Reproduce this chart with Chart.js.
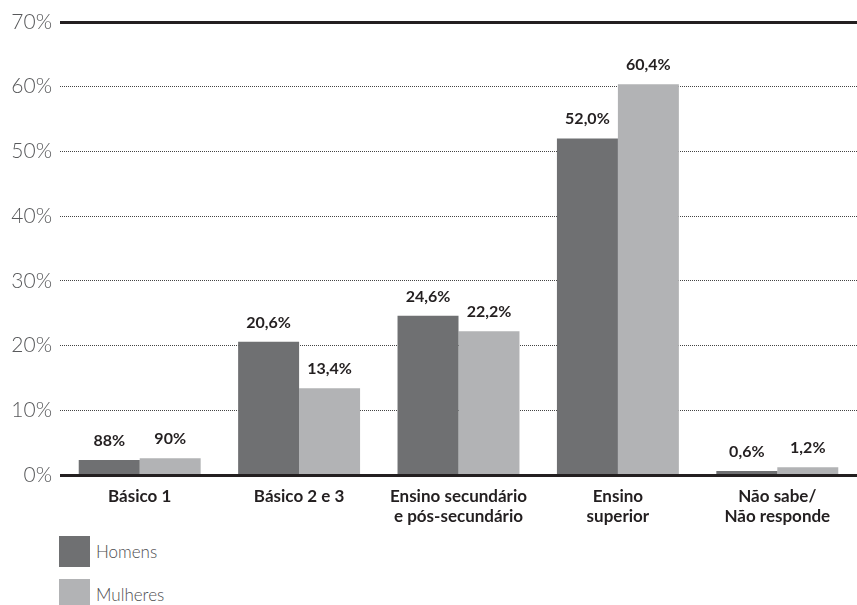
<!DOCTYPE html>
<html>
<head>
<meta charset="utf-8">
<script src="https://cdn.jsdelivr.net/npm/chart.js@4/dist/chart.umd.min.js"></script>
<style>
  body { margin: 0; background: #fff; font-family: Lato, sans-serif; }
  #wrap { position: relative; width: 857px; height: 605px; }
  #box { position: absolute; left: 0; top: 0; width: 857px; height: 530px; }
  #legenda { position: absolute; left: 59px; top: 536px; }
  .item { display: flex; align-items: center; height: 31px; margin-bottom: 12px; font-size: 17px; font-weight: 300; color: #4d4d4f; }
  .item span { display: inline-block; width: 31px; height: 31px; margin-right: 6px; }
</style>
</head>
<body>
<div id="wrap">
  <div id="box"><canvas id="grafico"></canvas></div>
  <div id="legenda"></div>
</div>
<script>
// dados
const categorias = [['Básico 1'], ['Básico 2 e 3'], ['Ensino secundário', 'e pós-secundário'], ['Ensino', 'superior'], ['Não sabe/', 'Não responde']];
const homens = [2.3, 20.6, 24.6, 52.0, 0.6];
const mulheres = [2.6, 13.4, 22.2, 60.4, 1.2];
const rotulosHomens = ['88%', '20,6%', '24,6%', '52,0%', '0,6%'];
const rotulosMulheres = ['90%', '13,4%', '22,2%', '60,4%', '1,2%'];
const ticksY = [0, 10, 20, 30, 40, 50, 60, 70];

const COR_HOMENS = '#6f7072';
const COR_MULHERES = '#b2b3b5';

// rótulos em cima das barras + linhas sólidas em 0% e 70%
const extras = {
  id: 'extras',
  afterDatasetsDraw(chart) {
    const ctx = chart.ctx;
    const y = chart.scales.y;
    const area = chart.chartArea;
    ctx.save();
    ctx.strokeStyle = '#231f20';
    ctx.lineWidth = 3;
    [0, 70].forEach(v => {
      const py = Math.round(y.getPixelForValue(v)) + 0.5;
      ctx.beginPath();
      ctx.moveTo(area.left, py);
      ctx.lineTo(chart.width, py);
      ctx.stroke();
    });
    ctx.font = 'bold 16px Lato';
    ctx.fillStyle = '#231f20';
    ctx.textAlign = 'center';
    ctx.textBaseline = 'alphabetic';
    [rotulosHomens, rotulosMulheres].forEach((rot, d) => {
      chart.getDatasetMeta(d).data.forEach((bar, i) => {
        ctx.fillText(rot[i], bar.x, bar.y - 14);
      });
    });
    ctx.restore();
  }
};

const grafico = new Chart(document.getElementById('grafico'), {
  type: 'bar',
  data: {
    labels: categorias,
    datasets: [
      { label: 'Homens', data: homens, backgroundColor: COR_HOMENS },
      { label: 'Mulheres', data: mulheres, backgroundColor: COR_MULHERES }
    ]
  },
  options: {
    responsive: true,
    maintainAspectRatio: false,
    animation: false,
    layout: { padding: { top: 22, right: 0 } },
    datasets: { bar: { categoryPercentage: 0.765, barPercentage: 1 } },
    plugins: { legend: { display: false }, tooltip: { enabled: false } },
    scales: {
      x: {
        grid: { display: false },
        border: { display: false },
        ticks: { color: '#231f20', font: { family: 'Lato', weight: 'bold', size: 17, lineHeight: 1.15 }, padding: 4, maxRotation: 0, autoSkip: false },
        afterFit(s) { s.height = 55; }
      },
      y: {
        min: 0, max: 70,
        afterBuildTicks(s) { s.ticks = ticksY.map(v => ({ value: v })); },
        grid: { color: '#444', lineWidth: 1, drawTicks: false },
        border: { display: false, dash: [1, 1] },
        ticks: { color: '#58595b', font: { family: 'Lato', weight: 300, size: 21 }, padding: 8, callback: v => v + '%' },
        afterFit(s) { s.width = 60; }
      }
    }
  },
  plugins: [extras]
});

// legenda vertical em HTML
const legenda = document.getElementById('legenda');
grafico.data.datasets.forEach(ds => {
  const item = document.createElement('div');
  item.className = 'item';
  const q = document.createElement('span');
  q.style.background = ds.backgroundColor;
  item.appendChild(q);
  item.appendChild(document.createTextNode(ds.label));
  legenda.appendChild(item);
});
</script>
</body>
</html>
